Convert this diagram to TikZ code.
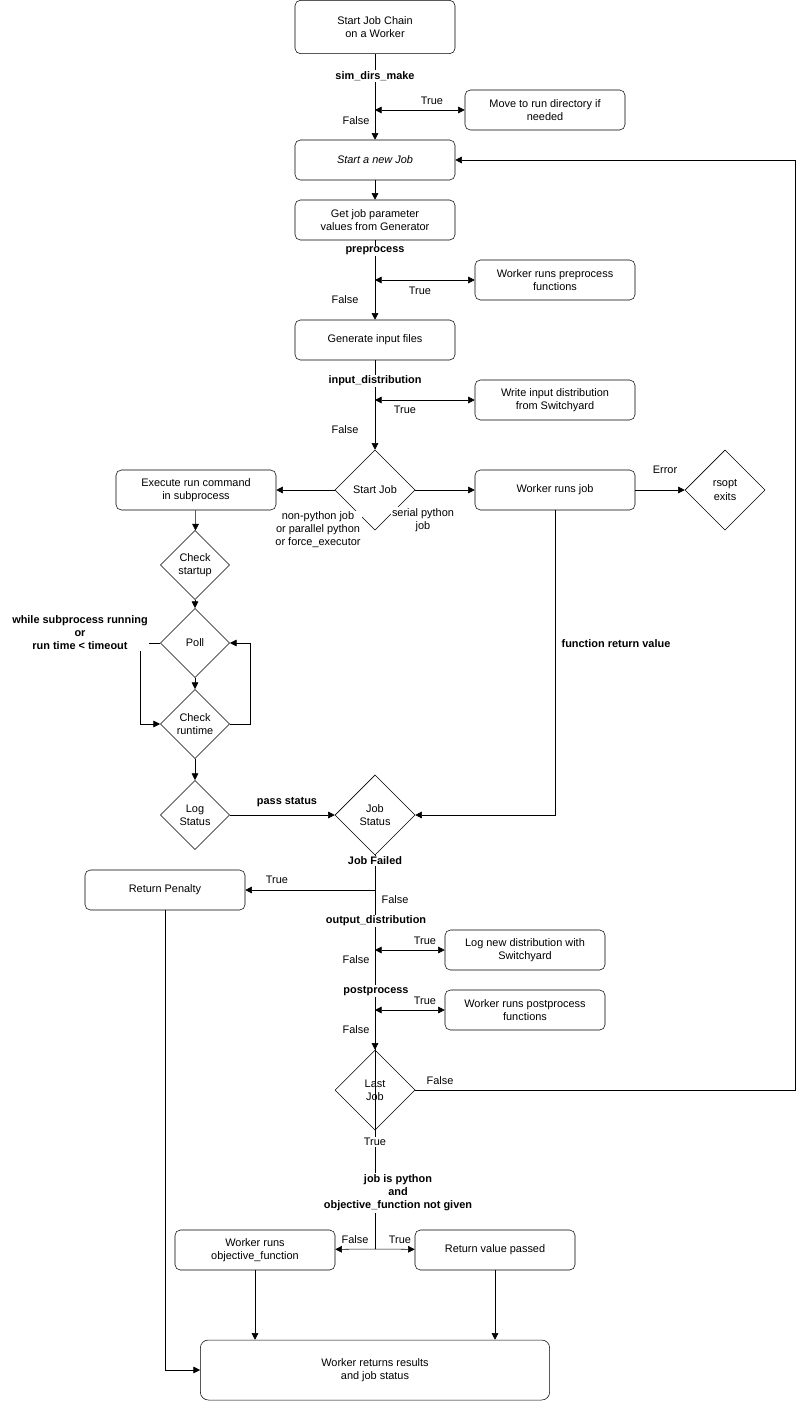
\documentclass[tikz,border=0pt]{standalone}
\usepackage{fontspec}
\setmainfont{Liberation Sans}
\usetikzlibrary{shapes.geometric,arrows.meta}
\begin{document}
\begin{tikzpicture}[x=0.75pt,y=-0.75pt,
 font=\fontsize{8.2}{9.8}\selectfont,
 box/.style={draw,rounded corners=4pt,minimum width=120pt,minimum height=30pt,align=center,inner sep=1pt},
 bigbox/.style={box,minimum height=40pt},
 dia/.style={draw,diamond,aspect=1,minimum width=60pt,minimum height=60pt,inner sep=0pt,align=center},
 sdia/.style={draw,diamond,aspect=1,minimum width=52pt,minimum height=52pt,inner sep=0pt,align=center},
 lbl/.style={fill=white,inner sep=1pt,align=center},
 bl/.style={lbl,font=\fontsize{8.2}{9.8}\selectfont\bfseries},
 arr/.style={-{Triangle[length=5pt,width=5pt]}},
 darr/.style={{Triangle[length=5pt,width=5pt]}-{Triangle[length=5pt,width=5pt]}}]
\useasboundingbox (0,0) rectangle (804,1401);
\node[bigbox] (start) at (375,27) {Start Job Chain\\on a Worker};
\node[box] (move) at (545,110) {Move to run directory if\\needed};
\node[box] (newjob) at (375,160) {\textit{Start a new Job}};
\node[box] (getp) at (375,220) {Get job parameter\\values from Generator};
\node[box] (pre) at (555,280) {Worker runs preprocess\\functions};
\node[box] (gen) at (375,340) {Generate input files};
\node[box] (wid) at (555,400) {Write input distribution\\from Switchyard};
\node[dia] (sj) at (375,490) {Start Job};
\node[box] (exec) at (196,490) {Execute run command\\in subprocess};
\node[box] (wrj) at (555,490) {Worker runs job};
\node[dia] (rsopt) at (725,490) {rsopt\\exits};
\node[sdia] (cs) at (195,565) {Check\\startup};
\node[sdia] (poll) at (195,643) {Poll};
\node[sdia] (cr) at (195,724) {Check\\runtime};
\node[sdia] (log) at (195,815) {Log\\Status};
\node[dia] (js) at (375,815) {Job\\Status};
\node[box] (pen) at (165,890) {Return Penalty};
\node[box] (lnd) at (525,950) {Log new distribution with\\Switchyard};
\node[box] (post) at (525,1010) {Worker runs postprocess\\functions};
\node[dia] (last) at (375,1090) {Last\\Job};
\node[box] (obj) at (255,1250) {Worker runs\\objective\_function};
\node[box] (rvp) at (495,1250) {Return value passed};
\node[draw,rounded corners=6pt,minimum width=262pt,minimum height=45pt,align=center] (fin) at (375,1370) {Worker returns results\\and job status};

\coordinate (c1) at (375,110);
\coordinate (c2) at (375,280);
\coordinate (c3) at (375,400);
\coordinate (c4) at (375,890);
\coordinate (c5) at (375,950);
\coordinate (c6) at (375,1010);
\coordinate (c7) at (375,1249);

\draw[arr] (start) -- (newjob);
\draw[darr] (c1) -- (move);
\draw[arr] (newjob) -- (getp);
\draw[arr] (getp) -- (gen);
\draw[darr] (c2) -- (pre);
\draw[arr] (gen) -- (sj);
\draw[darr] (c3) -- (wid);
\draw[arr] (sj) -- (exec);
\draw[arr] (sj) -- (wrj);
\draw[arr] (wrj) -- (rsopt);
\draw[arr] (exec) -- (cs);
\draw[arr] (cs) -- (poll);
\draw[arr] (poll) -- (cr);
\draw[arr] (poll.west) -- (140,643) -- (140,724) -- (cr.west);
\draw[arr] (cr.east) -- (250,724) -- (250,643) -- (poll.east);
\draw[arr] (cr) -- (log);
\draw[arr] (log) -- (js);
\draw[arr] (wrj.south -| 555,510) -- (555,815) -- (js.east);
\draw (js) -- (c7);
\draw[arr] (c4) -- (pen);
\draw[darr] (c5) -- (lnd);
\draw[darr] (c6) -- (post);
\draw[arr] (c6) -- (last);
\draw[arr] (last.east) -- (795,1090) -- (795,160) -- (newjob.east);
\draw[arr] (c7) -- (obj);
\draw[arr] (c7) -- (rvp);
\draw[arr] (obj.south) -- (obj.south |- fin.north);
\draw[arr] (rvp.south) -- (rvp.south |- fin.north);
\draw[arr] (pen.south) -- (165,1370) -- (fin.west);

\node[bl] at (375,76) {sim\_dirs\_make};
\node[lbl] at (432,101) {True};
\node[lbl] at (356,121) {False};
\node[bl] at (375,251) {preprocess};
\node[lbl] at (420,291) {True};
\node[lbl] at (345,300) {False};
\node[bl] at (375,381) {input\_distribution};
\node[lbl] at (405,410) {True};
\node[lbl] at (345,430) {False};
\node[lbl] at (318,530) {non-python job\\or parallel python\\or force\_executor};
\node[lbl] at (423,520) {serial python\\job};
\node[lbl] at (665,470) {Error};
\node[bl] at (80,633) {while subprocess running\\or\\run time < timeout};
\node[bl] at (287,802) {pass status};
\node[bl] at (616,644) {function return value};
\node[bl] at (375,861) {Job Failed};
\node[lbl] at (277,880) {True};
\node[lbl] at (395,900) {False};
\node[bl] at (376,921) {output\_distribution};
\node[lbl] at (425,941) {True};
\node[lbl] at (356,960) {False};
\node[bl] at (376,991) {postprocess};
\node[lbl] at (425,1001) {True};
\node[lbl] at (356,1030) {False};
\node[lbl] at (440,1081) {False};
\node[lbl] at (375,1142) {True};
\node[bl] at (398,1193) {job is python\\and\\objective\_function not given};
\node[lbl] at (355,1240) {False};
\node[lbl] at (400,1240) {True};
\end{tikzpicture}
\end{document}
